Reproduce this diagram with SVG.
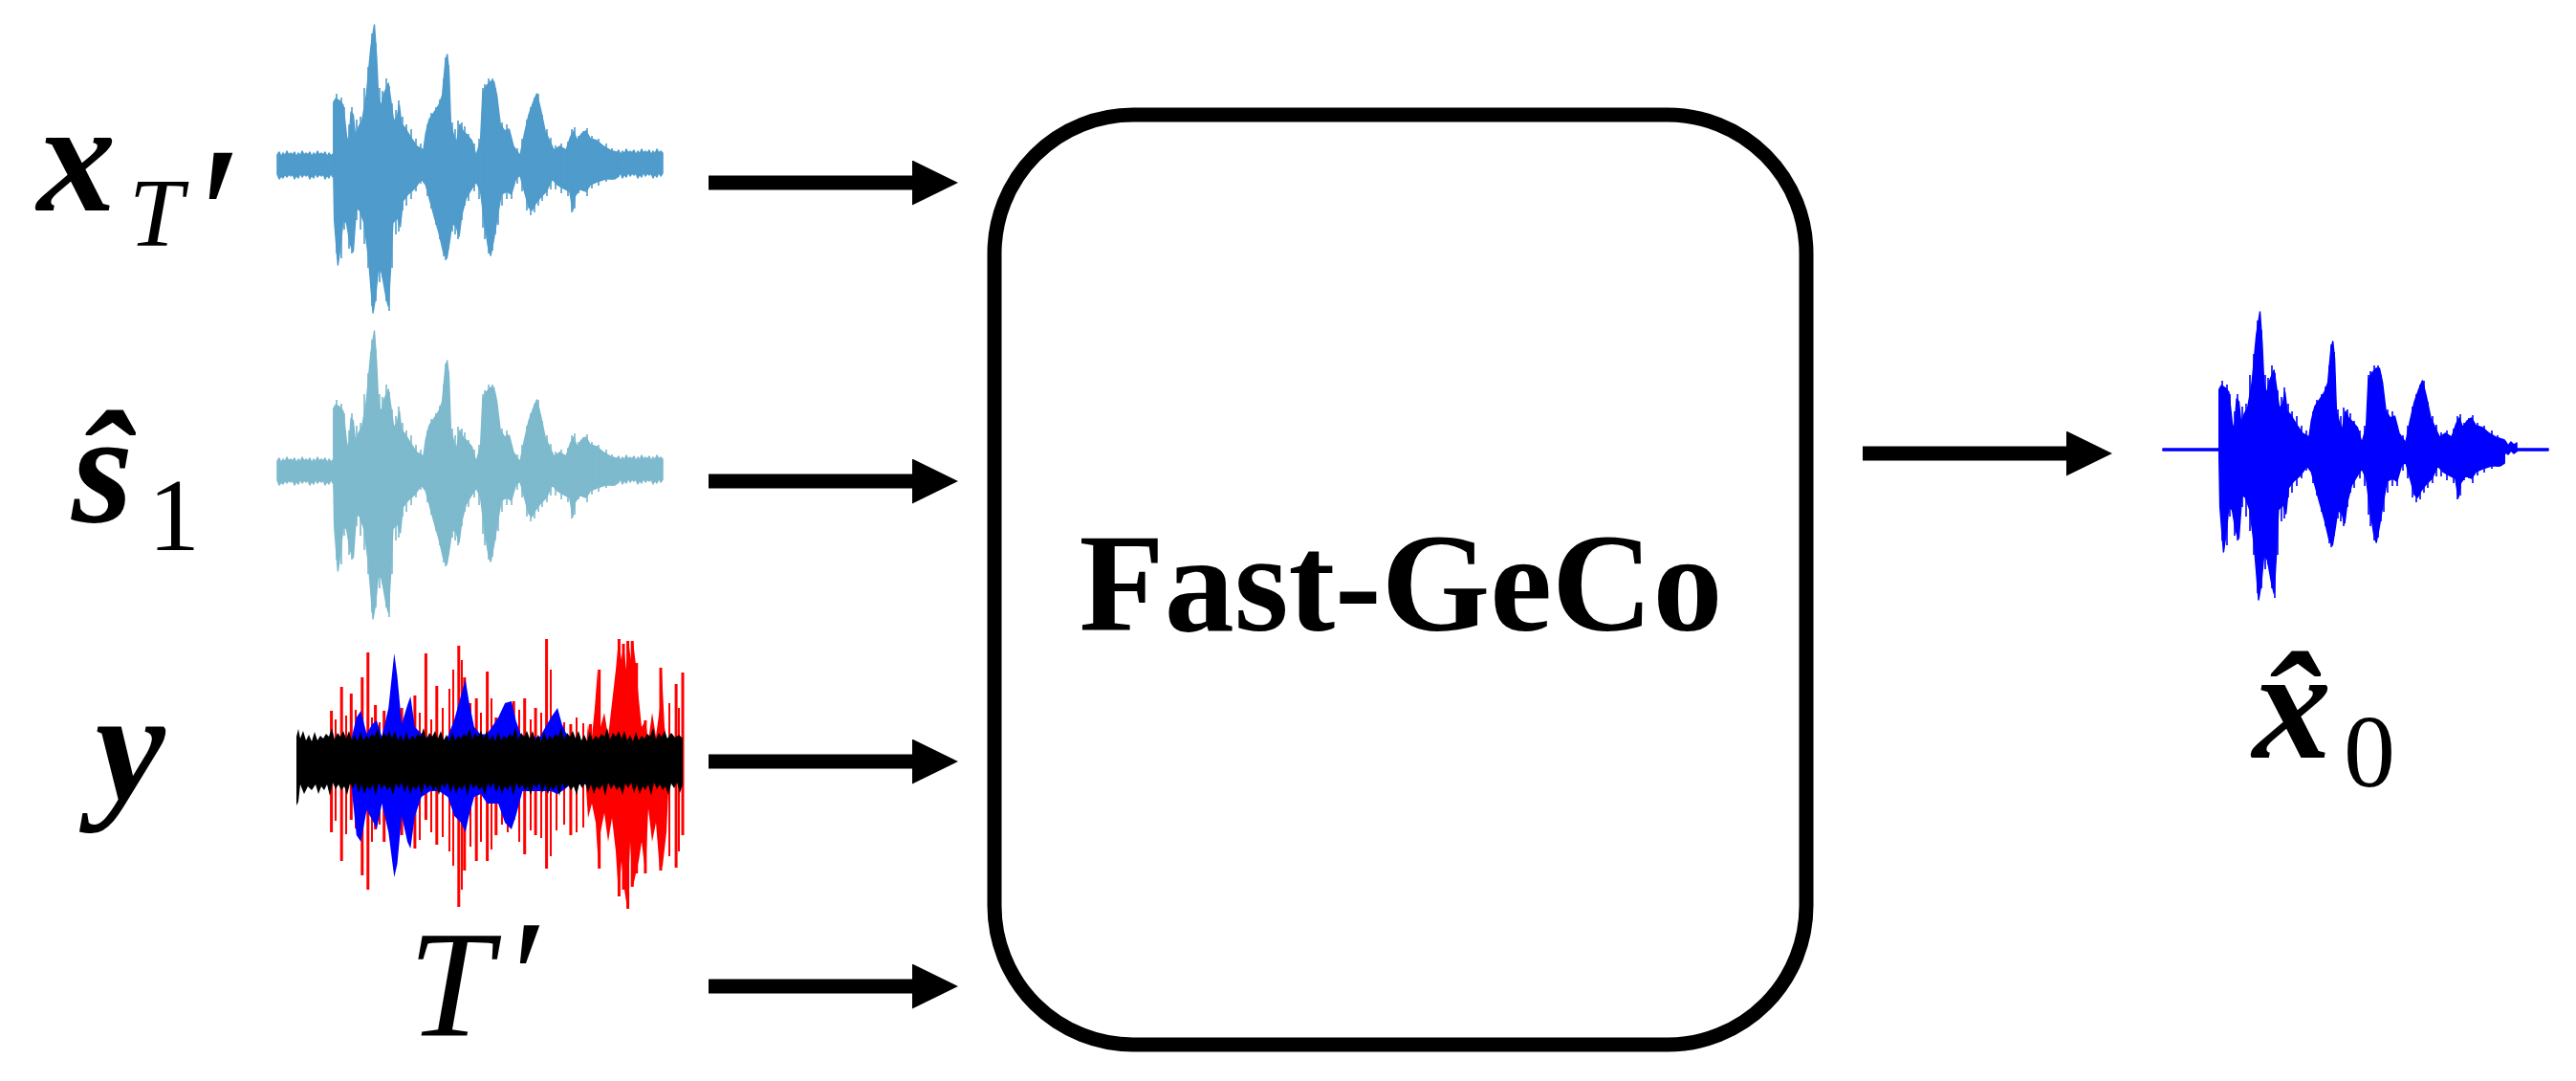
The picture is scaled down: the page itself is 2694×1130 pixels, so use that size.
<svg xmlns="http://www.w3.org/2000/svg" xmlns:xlink="http://www.w3.org/1999/xlink" width="2694" height="1130" viewBox="0 0 2694 1130">
<style>
.math{font-family:"Liberation Serif","Times New Roman",serif;fill:#000}
.bi{font-weight:bold;font-style:italic;font-size:165px}
.it{font-style:italic}
.conn{stroke:#000;stroke-width:15;fill:none}
.title{font-family:"Liberation Serif","Times New Roman",serif;font-weight:bold;font-size:146px;fill:#000}
</style>
<defs>
<marker id="ah" markerUnits="userSpaceOnUse" viewBox="0 0 48 47" markerWidth="48" markerHeight="47" refX="2" refY="23.5" orient="auto">
<path d="M0,0 L48,23.5 L0,47 Z" fill="#000"/>
</marker>
<path id="speech" d="M58.8,-7 L58.8,-63 L61.1,-67 L65.7,-64 L68.9,-60 L72.5,-27 L74.8,-20 L77.1,-53 L79.4,-50 L81.7,-27 L85.4,-38 L88.6,-43 L93.2,-70 L97.8,-120 L101.5,-144 L103.8,-110 L105.6,-70 L108.4,-58 L111.6,-72 L116.2,-83 L119.4,-60 L121.7,-43 L125.4,-48 L127.6,-60 L129.9,-40 L133.1,-37 L139.1,-27 L146,-17 L152.9,-13 L155.2,-30 L158.9,-45 L164.4,-53 L169,-60 L172.6,-70 L175.8,-105 L177.7,-113 L179.5,-95 L181.4,-40 L184.1,-30 L187.3,-20 L191,-40 L194.2,-33 L197.4,-30 L203.4,-23 L208,-7 L212.6,-23 L214.9,-73 L218.5,-80 L223.1,-85 L226.4,-85 L229.6,-70 L233.2,-40 L237.8,-33 L242.4,-35 L247,-17 L253.9,-7 L258.5,-30 L263.1,-50 L267.7,-63 L271.4,-72 L275.5,-55 L280.1,-33 L284.7,-23 L289.3,-13 L295.2,-17 L302.1,-13 L306.7,-27 L309.9,-33 L313.6,-23 L318.2,-30 L322.8,-33 L327.4,-25 L334.3,-23 L341.2,-17 L348,-13 L357.2,-10 L357.2,14 L352.6,17 L343.5,17 L334.3,20 L327.4,23 L322.8,30 L316.8,27 L311.3,35 L309,50 L305.8,30 L299.8,27 L292.9,23 L287.4,17 L281.5,30 L274.6,37 L270,43 L266.3,50 L263.1,47 L258.5,30 L253.9,13 L249.4,17 L244.8,33 L240.2,30 L234.2,33 L229.6,60 L226.4,80 L223.1,97 L220.4,87 L216.3,60 L212.6,30 L208,20 L203.4,27 L197.4,37 L192.8,55 L190.1,77 L187.3,67 L182.7,63 L180.5,80 L177.3,100 L173.6,93 L169,73 L164.4,57 L159.8,40 L155.2,23 L150.6,17 L143.7,27 L136.8,33 L131.3,40 L128.6,67 L125.4,57 L120.8,63 L118.5,110 L116.2,150 L113.8,140 L109.3,115 L105.6,110 L102.8,140 L100.1,157 L95.5,100 L90.9,63 L86.3,50 L82.6,47 L79.4,93 L76.2,85 L72.5,63 L68.9,60 L65.7,90 L63.4,107 L59.7,60 L58.8,10 Z"/>
<path id="spikes" fill="none" stroke-width="1.6" d="M62,-72V95 M67,-68V100 M70,-58V70 M75,-40V90 M78,-58V95 M83,-45V60 M87,-48V70 M91,-78V85 M95,-100V110 M99,-135V150 M103,-125V145 M107,-78V125 M110,-75V120 M114,-88V145 M117,-80V155 M120,-62V110 M124,-55V75 M127,-65V72 M131,-48V50 M135,-40V45 M140,-35V38 M145,-25V30 M150,-20V22 M157,-40V35 M161,-52V48 M166,-58V65 M170,-66V80 M174,-88V98 M176,-110V102 M179,-102V90 M183,-42V72 M186,-35V75 M189,-44V80 M193,-42V60 M196,-38V45 M200,-30V40 M206,-20V30 M211,-25V38 M215,-78V68 M217,-82V80 M221,-88V95 M225,-88V92 M228,-78V75 M231,-55V65 M235,-42V45 M240,-40V38 M245,-25V38 M251,-15V22 M256,-25V30 M261,-45V50 M265,-58V55 M269,-68V52 M273,-72V45 M277,-50V40 M282,-35V35 M286,-26V28 M291,-18V28 M297,-20V32 M304,-22V35 M308,-35V52 M311,-37V48 M315,-28V32 M320,-33V30 M324,-36V35 M329,-28V27 M336,-25V24 M344,-20V20 M350,-15V18"/>
<path id="noiseL" d="M0,12 L0,-8 l2,-3 l2,5 l2,-4 l2,3 l2,-5 l2,4 l2,-2 l2,2 l2,-3 l2,5 l2,-4 l2,3 l2,-5 l2,4 l2,-2 l2,2 l2,-3 l2,5 l2,-4 l2,3 l2,-5 l2,4 l2,-2 l2,2 l2,-3 l2,5 l2,-4 l2,3 l2,-2 L60,-8 L60,12 l-2,3 l-2,-4 l-2,5 l-2,-3 l-2,4 l-2,-5 l-2,2 l-2,-2 l-2,3 l-2,-4 l-2,5 l-2,-3 l-2,4 l-2,-5 l-2,2 l-2,-2 l-2,3 l-2,-4 l-2,5 l-2,-3 l-2,4 l-2,-5 l-2,2 l-2,-2 l-2,3 l-2,-3 l-2,4 l-2,-2 l-2,3 l-2,-5 Z"/>
<path id="noiseR" d="M355,14 L355,-10 l2,-3 l2,5 l2,-4 l2,3 l2,-5 l2,4 l2,-2 l2,2 l2,-3 l2,5 l2,-4 l2,3 l2,-5 l2,4 l2,-2 l2,2 l2,-3 l2,5 l2,-4 l2,3 l2,-5 l2,4 l2,-2 l2,2 L403,11 l-2,3 l-2,-4 l-2,5 l-2,-3 l-2,4 l-2,-5 l-2,2 l-2,-2 l-2,3 l-2,-4 l-2,5 l-2,-3 l-2,4 l-2,-5 l-2,2 l-2,-2 l-2,3 l-2,-4 l-2,5 l-2,-3 l-2,4 l-2,-5 l-2,2 l-2,-2 Z"/>
</defs>
<rect width="2694" height="1130" fill="#fff"/>

<g id="input-xT">
<g transform="translate(290,170)" fill="#4f9bcb" stroke="#4f9bcb" stroke-width="1.5" stroke-linejoin="round">
<use xlink:href="#speech"/><use xlink:href="#spikes"/><use xlink:href="#noiseL"/><use xlink:href="#noiseR"/>
</g>
<text class="math" text-anchor="middle"><tspan class="bi" x="80" y="220">x</tspan><tspan class="it" x="163" y="257" font-size="102">T</tspan></text>
<text class="math it" x="196" y="294" font-size="205">′</text>
</g>

<g id="input-s1">
<g transform="translate(290,490)" fill="#7ebacd" stroke="#7ebacd" stroke-width="1.5" stroke-linejoin="round">
<use xlink:href="#speech"/><use xlink:href="#spikes"/><use xlink:href="#noiseL"/><use xlink:href="#noiseR"/>
</g>
<text class="math" text-anchor="middle"><tspan class="bi" x="107" y="545">ŝ</tspan><tspan x="182" y="575" font-size="108">1</tspan></text>
</g>

<g id="input-y">
<path fill="none" stroke="#ff0000" stroke-width="3" d="M346.6,743V870 M357.2,718V900 M367.3,725V857 M378.8,708V915 M384.8,682V930 M392.6,737V867 M401.7,743V880 M420.1,740V873 M433.9,727V887 M445.4,683V857 M456.8,717V883 M479.8,675V948 M485.8,708V910 M498.2,730V900 M509.6,702V900 M518.8,750V873 M537.2,733V857 M548.7,730V893 M560.1,740V873 M571.6,668V908 M596.9,757V873 M617.5,757V840 M626.7,700V908 M647.4,668V937 M652,673V930 M656.6,670V950 M661.2,670V927 M665.7,693V913 M674.9,753V913 M691,698V910 M707.1,715V907 M714,703V873"/>
<path fill="none" stroke="#ff0000" stroke-width="2" d="M351,752V858 M362,748V872 M372,742V866 M389,750V880 M397,755V862 M410,748V870 M426,752V866 M439,745V878 M451,752V870 M463,740V875 M470,720V890 M474,700V905 M483,690V930 M492,735V885 M503,745V880 M514,730V888 M525,755V862 M531,748V870 M543,742V880 M555,752V868 M566,745V876 M576,700V895 M582,745V868 M590,755V862 M603,750V870 M610,756V865 M700,735V895 M710,740V890"/>
<path fill="#ff0000" d="M612,790 L615,757 L618,780 L622,740 L625,700 L628,760 L632,745 L636,770 L640,735 L644,700 L647,668 L650,690 L652,673 L655,700 L657,670 L660,690 L662,670 L665,695 L668,730 L671,760 L675,753 L678,775 L682,745 L686,770 L690,740 L692,700 L695,760 L700,790 L700,805 L697,870 L693,905 L690,910 L686,860 L682,880 L678,845 L675,913 L671,880 L668,900 L665,913 L662,927 L659,880 L656,950 L653,930 L650,900 L647,937 L644,890 L640,855 L636,880 L632,850 L628,870 L626,908 L623,860 L619,840 L615,855 L612,810 Z"/>
<path fill="#0000ff" d="M367.3,773 L372.8,750 L377.4,743 L383.4,767 L389.3,757 L393.9,753 L399.4,770 L406.3,740 L412.3,683 L415.5,707 L420.1,757 L426.1,737 L429.3,728 L433.9,760 L440.8,767 L450,773 L459.1,777 L468.3,770 L475.2,752 L482.1,727 L486.7,710 L490.4,733 L495.9,760 L502.8,768 L509.6,767 L521.1,750 L528.1,735 L534.9,733 L539.5,753 L546.4,773 L564.7,770 L576.2,750 L583.1,740 L587.7,757 L596.9,777 L624.4,777 L633.6,772 L642.8,780 L642.8,813 L633.6,820 L624.4,820 L596.9,820 L587.7,827 L583.1,830 L576.2,827 L564.7,827 L546.4,827 L539.5,853 L534.9,867 L528.1,860 L521.1,840 L509.6,840 L502.8,830 L495.9,833 L490.4,853 L486.7,870 L482.1,860 L475.2,853 L468.3,833 L459.1,827 L450,827 L440.8,833 L433.9,853 L429.3,887 L426.1,880 L420.1,853 L415.5,903 L412.3,917 L406.3,870 L399.4,840 L393.9,867 L389.3,857 L383.4,847 L377.4,880 L372.8,873 L367.3,820 Z"/>
<path fill="#000" d="M310,842 L310,770 L312,762 L314,772
l3,-8 l3,10 l3,-6 l3,7 l3,-10 l3,9 l3,-5 l3,3
l3,-5 l3,3 l3,-9 l3,12 l3,-7 l3,4 l3,-6 l3,8
l3,-8 l3,10 l3,-6 l3,7 l3,-10 l3,9 l3,-5 l3,3
l3,-5 l3,3 l3,-9 l3,12 l3,-7 l3,4 l3,-6 l3,8
l3,-8 l3,10 l3,-6 l3,7 l3,-10 l3,9 l3,-5 l3,3
l3,-5 l3,3 l3,-9 l3,12 l3,-7 l3,4 l3,-6 l3,8
l3,-8 l3,10 l3,-6 l3,7 l3,-10 l3,9 l3,-5 l3,3
l3,-5 l3,3 l3,-9 l3,12 l3,-7 l3,4 l3,-6 l3,8
l3,-8 l3,10 l3,-6 l3,7 l3,-10 l3,9 l3,-5 l3,3
l3,-5 l3,3 l3,-9 l3,12 l3,-7 l3,4 l3,-6 l3,8
l3,-8 l3,10 l3,-6 l3,7 l3,-10 l3,9 l3,-5 l3,3
l3,-5 l3,3 l3,-9 l3,12 l3,-7 l3,4 l3,-6 l3,8
l3,-8 l3,10 l3,-6 l3,7 l3,-10 l3,9 l3,-5 l3,3
l3,-5 l3,3 l3,-9 l3,12 l3,-7 l3,4 l3,-6 l3,8
l3,-8 l3,10 l3,-6 l3,7 l3,-10 l3,9 l3,-5 l3,3
l3,-5 l3,3 l3,-9 l3,12 l3,-7 l3,4 l3,-6 l3,8
l4,-6 l4,5 l4,-3 l4,4 L714,820
l-3,9 l-3,-11 l-3,6 l-3,-5 l-3,12 l-3,-9 l-3,4 l-3,-6
l-3,5 l-3,-7 l-3,14 l-3,-12 l-3,6 l-3,-4 l-3,8 l-3,-10
l-3,9 l-3,-11 l-3,6 l-3,-5 l-3,12 l-3,-9 l-3,4 l-3,-6
l-3,5 l-3,-7 l-3,14 l-3,-12 l-3,6 l-3,-4 l-3,8 l-3,-10
l-3,9 l-3,-11 l-3,6 l-3,-5 l-3,12 l-3,-9 l-3,4 l-3,-6
l-3,5 l-3,-7 l-3,14 l-3,-12 l-3,6 l-3,-4 l-3,8 l-3,-10
l-3,9 l-3,-11 l-3,6 l-3,-5 l-3,12 l-3,-9 l-3,4 l-3,-6
l-3,5 l-3,-7 l-3,14 l-3,-12 l-3,6 l-3,-4 l-3,8 l-3,-10
l-3,9 l-3,-11 l-3,6 l-3,-5 l-3,12 l-3,-9 l-3,4 l-3,-6
l-3,5 l-3,-7 l-3,14 l-3,-12 l-3,6 l-3,-4 l-3,8 l-3,-10
l-3,9 l-3,-11 l-3,6 l-3,-5 l-3,12 l-3,-9 l-3,4 l-3,-6
l-3,5 l-3,-7 l-3,14 l-3,-12 l-3,6 l-3,-4 l-3,8 l-3,-10
l-3,9 l-3,-11 l-3,6 l-3,-5 l-3,12 l-3,-9 l-3,4 l-3,-6
l-3,5 l-3,-7 l-3,14 l-3,-12 l-3,6 l-3,-4 l-3,8 l-3,-10
l-3,9 l-3,-11 l-3,6 l-3,-5 l-3,12 l-3,-9 l-3,4 l-3,-6
l-3,5 l-3,-7 l-3,14 l-3,-12 l-3,6 l-3,-4 l-3,8 l-3,-10
l-4,6 l-4,-4 l-4,8 l-4,-10 L312,838 Z"/>
<text class="math bi" x="136" y="836" text-anchor="middle">y</text>
</g>

<g id="input-T">
<text class="math it" x="471" y="1083" font-size="158" text-anchor="middle">T</text>
<text class="math it" x="525" y="1078" font-size="170">′</text>
</g>

<g id="fastgeco">
<rect x="1040" y="120" width="849" height="972" rx="145" ry="145" fill="#fff" stroke="#000" stroke-width="15"/>
<text class="title" x="1465" y="659" text-anchor="middle">Fast-GeCo</text>
</g>

<g id="output-x0">
<g transform="translate(2262,470)" fill="#0000ff" stroke="#0000ff" stroke-width="1.5" stroke-linejoin="round">
<use xlink:href="#speech"/><use xlink:href="#spikes"/>
<rect x="0" y="-1" width="60" height="2"/>
<rect x="355" y="-1" width="48" height="2"/>
<path d="M355,-6 l3,-3 l3,5 l3,-4 l3,3 l3,-2 L370,2 l-3,2 l-3,-3 l-3,4 l-3,-2 l-3,5 Z"/>
</g>
<text class="math" text-anchor="middle"><tspan class="bi" x="2397" y="792">x̂</tspan><tspan x="2478" y="822" font-size="108">0</tspan></text>
</g>

<g id="connectors">
<line class="conn" x1="741" y1="191" x2="956" y2="191" marker-end="url(#ah)"/>
<line class="conn" x1="741" y1="503" x2="956" y2="503" marker-end="url(#ah)"/>
<line class="conn" x1="741" y1="796" x2="956" y2="796" marker-end="url(#ah)"/>
<line class="conn" x1="741" y1="1031" x2="956" y2="1031" marker-end="url(#ah)"/>
<line class="conn" x1="1948" y1="474" x2="2163" y2="474" marker-end="url(#ah)"/>
</g>
</svg>
